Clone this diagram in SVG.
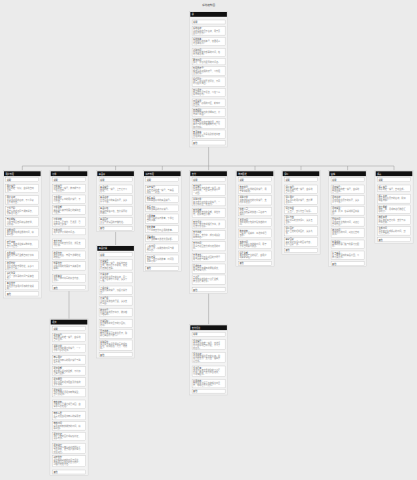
<svg xmlns="http://www.w3.org/2000/svg" width="417" height="480" viewBox="0 0 417 480">
<style>
text{font-family:"Liberation Sans","Noto Sans CJK SC",sans-serif;font-size:2.1px;fill:#444}
.bg{fill:#ebebeb}
.f{fill:#f3f3f3;stroke:#cdcdcd;stroke-width:.4}
.h{fill:#111}
.ht{fill:#fff}
.r{fill:#fff;stroke:#b4b4b4;stroke-width:.3}
.d{fill:#888}
.c{fill:none;stroke:#999;stroke-width:.5}
.ti{font-size:2.6px;fill:#444}
</style>
<rect class="bg" x="0" y="0" width="417" height="480"/>
<text class="ti" x="208.5" y="6.3" text-anchor="middle">系统结构图</text>
<g id="connectors">
<path class="c" d="M208.6 147V166M22.3 166H394M22.3 166V170.5M69 166V170.5M115.6 166V170.5M162.3 166V170.5M208.6 166V170.5M255 166V170.5M301 166V170.5M347.6 166V170.5M394 166V170.5M69 291V318.9M115.6 231.7V245.2M208.6 293.3V324.5"/>
</g>

<g id="root" transform="translate(190.3 0)">
<rect class="f" x="-0.8" y="11.2" width="38.2" height="135.8"/>
<rect class="h" x="0" y="12" width="36.6" height="4.8"/>
<text class="ht" x="1.5" y="15.3">总</text>
<rect class="r" x="1.8" y="20" width="33" height="4"/><text x="2.8" y="22.8">说明：</text>
<rect class="r" x="1.8" y="26.7" width="33" height="8.4"/><text x="2.8" y="29.2">系统名称：<tspan class="d" x="2.8" dy="2.3">当前系统的显示名称，用于页</tspan><tspan class="d" x="2.8" dy="2.3">面标题展示。</tspan></text>
<rect class="r" x="1.8" y="37.3" width="33" height="8.4"/><text x="2.8" y="39.8">系统版本：<tspan class="d" x="2.8" dy="2.3">当前运行的版本号，遵循语义</tspan><tspan class="d" x="2.8" dy="2.3">化版本规范。</tspan></text>
<rect class="r" x="1.8" y="48.3" width="33" height="8.4"/><text x="2.8" y="50.8">创建时间：<tspan class="d" x="2.8" dy="2.3">记录系统首次部署的时间，格</tspan><tspan class="d" x="2.8" dy="2.3">式为年月日。</tspan></text>
<rect class="r" x="1.8" y="58.3" width="33" height="6.6"/><text x="2.8" y="60.8">更新时间：<tspan class="d" x="2.8" dy="2.3">最近一次修改配置的时间点。</tspan></text>
<rect class="r" x="1.8" y="66.7" width="33" height="8.8"/><text x="2.8" y="69.2">管理员账号：<tspan class="d" x="2.8" dy="2.3">拥有最高权限的账号，可管理</tspan><tspan class="d" x="2.8" dy="2.3">全部模块。</tspan></text>
<rect class="r" x="1.8" y="77" width="33" height="9.2"/><text x="2.8" y="79.5">运行环境：<tspan class="d" x="2.8" dy="2.3">生产、测试或开发环境，不同</tspan><tspan class="d" x="2.8" dy="2.3">环境配置独立。</tspan></text>
<rect class="r" x="1.8" y="88.3" width="33" height="8.4"/><text x="2.8" y="90.8">默认语言：<tspan class="d" x="2.8" dy="2.3">界面默认显示语言，可在个人</tspan><tspan class="d" x="2.8" dy="2.3">设置中修改。</tspan></text>
<rect class="r" x="1.8" y="99" width="33" height="7.8"/><text x="2.8" y="101.5">时区设置：<tspan class="d" x="2.8" dy="2.3">系统统一使用的时区，影响时</tspan><tspan class="d" x="2.8" dy="2.3">间显示。</tspan></text>
<rect class="r" x="1.8" y="108.3" width="33" height="8.4"/><text x="2.8" y="110.8">日志级别：<tspan class="d" x="2.8" dy="2.3">控制日志输出的详细程度，分</tspan><tspan class="d" x="2.8" dy="2.3">为四个等级。</tspan></text>
<rect class="r" x="1.8" y="118.3" width="33" height="10.2"/><text x="2.8" y="120.8">存储配置：<tspan class="d" x="2.8" dy="2.3">文件与图片的存储位置，支持</tspan><tspan class="d" x="2.8" dy="2.3">本地与对象存储两种方式，可</tspan><tspan class="d" x="2.8" dy="2.3">随时切换。</tspan></text>
<rect class="r" x="1.8" y="130" width="33" height="8.4"/><text x="2.8" y="132.5">安全策略：<tspan class="d" x="2.8" dy="2.3">密码强度、登录失败锁定等安</tspan><tspan class="d" x="2.8" dy="2.3">全相关设置。</tspan></text>
<rect class="r" x="1.8" y="140.7" width="33" height="4.3"/><text x="2.8" y="143.5">其他</text>
</g>

<g id="n1" transform="translate(4 0)">
<rect class="f" x="-0.8" y="170.5" width="38.2" height="127.5"/>
<rect class="h" x="0" y="171.3" width="36.6" height="4.8"/>
<text class="ht" x="1.5" y="174.6">用户管理</text>
<rect class="r" x="1.8" y="177.7" width="33" height="4"/><text x="2.8" y="180.5">说明：</text>
<rect class="r" x="1.8" y="184.3" width="33" height="8.4"/><text x="2.8" y="186.8">用户编号：<tspan class="d" x="2.8" dy="2.3">用户的唯一标识，由系统自动</tspan><tspan class="d" x="2.8" dy="2.3">生成。</tspan></text>
<rect class="r" x="1.8" y="195.7" width="33" height="8.4"/><text x="2.8" y="198.2">用户名称：<tspan class="d" x="2.8" dy="2.3">登录时使用的名称，不可重复</tspan><tspan class="d" x="2.8" dy="2.3">且不能为空。</tspan></text>
<rect class="r" x="1.8" y="206.7" width="33" height="8.4"/><text x="2.8" y="209.2">手机号码：<tspan class="d" x="2.8" dy="2.3">用于接收验证码与通知消息，</tspan><tspan class="d" x="2.8" dy="2.3">需实名认证。</tspan></text>
<rect class="r" x="1.8" y="217.7" width="33" height="8.4"/><text x="2.8" y="220.2">电子邮箱：<tspan class="d" x="2.8" dy="2.3">可用于找回密码和接收账单，</tspan><tspan class="d" x="2.8" dy="2.3">选填项。</tspan></text>
<rect class="r" x="1.8" y="228.3" width="33" height="8.4"/><text x="2.8" y="230.8">注册时间：<tspan class="d" x="2.8" dy="2.3">用户首次完成注册的时间，精</tspan><tspan class="d" x="2.8" dy="2.3">确到秒。</tspan></text>
<rect class="r" x="1.8" y="240" width="33" height="8.4"/><text x="2.8" y="242.5">账号状态：<tspan class="d" x="2.8" dy="2.3">正常、冻结或注销三种状态，</tspan><tspan class="d" x="2.8" dy="2.3">默认为正常。</tspan></text>
<rect class="r" x="1.8" y="251" width="33" height="8.4"/><text x="2.8" y="253.5">会员等级：<tspan class="d" x="2.8" dy="2.3">根据累计消费金额自动计算等</tspan><tspan class="d" x="2.8" dy="2.3">级。</tspan></text>
<rect class="r" x="1.8" y="261.7" width="33" height="8.2"/><text x="2.8" y="264.2">收货地址：<tspan class="d" x="2.8" dy="2.3">用户保存的常用地址，最多可</tspan><tspan class="d" x="2.8" dy="2.3">保存二十条。</tspan></text>
<rect class="r" x="1.8" y="271.7" width="33" height="8.2"/><text x="2.8" y="274.2">最近登录：<tspan class="d" x="2.8" dy="2.3">最后一次登录的时间与设备信</tspan><tspan class="d" x="2.8" dy="2.3">息。</tspan></text>
<rect class="r" x="1.8" y="281.7" width="33" height="8.2"/><text x="2.8" y="284.2">备注信息：<tspan class="d" x="2.8" dy="2.3">管理员为该用户添加的补充说</tspan><tspan class="d" x="2.8" dy="2.3">明。</tspan></text>
<rect class="r" x="1.8" y="291.7" width="33" height="4.3"/><text x="2.8" y="294.5">其他</text>
</g>

<g id="n2" transform="translate(50.7 0)">
<rect class="f" x="-0.8" y="170.5" width="38.2" height="120.5"/>
<rect class="h" x="0" y="171.3" width="36.6" height="4.8"/>
<text class="ht" x="1.5" y="174.6">订单</text>
<rect class="r" x="1.8" y="177.7" width="33" height="4"/><text x="2.8" y="180.5">说明：</text>
<rect class="r" x="1.8" y="184.3" width="33" height="8.4"/><text x="2.8" y="186.8">订单编号：<tspan class="d" x="2.8" dy="2.3">订单的唯一编号，按日期与序</tspan><tspan class="d" x="2.8" dy="2.3">号组合生成。</tspan></text>
<rect class="r" x="1.8" y="195" width="33" height="8.4"/><text x="2.8" y="197.5">下单用户：<tspan class="d" x="2.8" dy="2.3">关联用户表中的用户编号，不</tspan><tspan class="d" x="2.8" dy="2.3">可为空。</tspan></text>
<rect class="r" x="1.8" y="205.7" width="33" height="8.6"/><text x="2.8" y="208.2">订单金额：<tspan class="d" x="2.8" dy="2.3">商品总价减去优惠后的实际应</tspan><tspan class="d" x="2.8" dy="2.3">付金额。</tspan></text>
<rect class="r" x="1.8" y="217.7" width="33" height="8.4"/><text x="2.8" y="220.2">订单状态：<tspan class="d" x="2.8" dy="2.3">待支付、已支付、已发货、已</tspan><tspan class="d" x="2.8" dy="2.3">完成或已取消。</tspan></text>
<rect class="r" x="1.8" y="228.3" width="33" height="6.6"/><text x="2.8" y="230.8">下单时间：<tspan class="d" x="2.8" dy="2.3">用户提交订单的时间点。</tspan></text>
<rect class="r" x="1.8" y="239" width="33" height="9.2"/><text x="2.8" y="241.5">支付方式：<tspan class="d" x="2.8" dy="2.3">用户选择的支付渠道，详见支</tspan><tspan class="d" x="2.8" dy="2.3">付模块。</tspan></text>
<rect class="r" x="1.8" y="251" width="33" height="8.4"/><text x="2.8" y="253.5">收货信息：<tspan class="d" x="2.8" dy="2.3">收货人姓名、电话与详细地址</tspan><tspan class="d" x="2.8" dy="2.3">的快照。</tspan></text>
<rect class="r" x="1.8" y="261.7" width="33" height="8.4"/><text x="2.8" y="264.2">优惠信息：<tspan class="d" x="2.8" dy="2.3">订单使用的优惠券与满减活动</tspan><tspan class="d" x="2.8" dy="2.3">明细。</tspan></text>
<rect class="r" x="1.8" y="274.3" width="33" height="8.4"/><text x="2.8" y="276.8">订单备注：<tspan class="d" x="2.8" dy="2.3">用户下单时填写的留言内容，</tspan><tspan class="d" x="2.8" dy="2.3">选填。</tspan></text>
<rect class="r" x="1.8" y="285.7" width="33" height="4"/><text x="2.8" y="288.5">其他</text>
</g>

<g id="n2c" transform="translate(50.7 0)">
<rect class="f" x="-0.8" y="318.9" width="38.2" height="156.6"/>
<rect class="h" x="0" y="319.7" width="36.6" height="4.8"/>
<text class="ht" x="1.5" y="323">退款</text>
<rect class="r" x="1.8" y="326.7" width="33" height="4"/><text x="2.8" y="329.5">说明：</text>
<rect class="r" x="1.8" y="333.3" width="33" height="8.4"/><text x="2.8" y="335.8">退款编号：<tspan class="d" x="2.8" dy="2.3">退款申请的唯一编号，由系统</tspan><tspan class="d" x="2.8" dy="2.3">自动生成。</tspan></text>
<rect class="r" x="1.8" y="344.3" width="33" height="8.4"/><text x="2.8" y="346.8">关联订单：<tspan class="d" x="2.8" dy="2.3">发起退款的原订单编号，一个</tspan><tspan class="d" x="2.8" dy="2.3">订单可多次退款。</tspan></text>
<rect class="r" x="1.8" y="355.7" width="33" height="8.4"/><text x="2.8" y="358.2">申请用户：<tspan class="d" x="2.8" dy="2.3">提交退款申请的用户编号与联</tspan><tspan class="d" x="2.8" dy="2.3">系方式。</tspan></text>
<rect class="r" x="1.8" y="366.7" width="33" height="8.4"/><text x="2.8" y="369.2">退款金额：<tspan class="d" x="2.8" dy="2.3">本次申请退还的金额，不得超</tspan><tspan class="d" x="2.8" dy="2.3">过实付金额。</tspan></text>
<rect class="r" x="1.8" y="377.7" width="33" height="8.4"/><text x="2.8" y="380.2">退款原因：<tspan class="d" x="2.8" dy="2.3">用户选择的退款理由及补充的</tspan><tspan class="d" x="2.8" dy="2.3">文字说明。</tspan></text>
<rect class="r" x="1.8" y="388.3" width="33" height="8.6"/><text x="2.8" y="390.8">退款类型：<tspan class="d" x="2.8" dy="2.3">仅退款或退货退款两种类型，</tspan><tspan class="d" x="2.8" dy="2.3">默认仅退款。</tspan></text>
<rect class="r" x="1.8" y="400" width="33" height="8.6"/><text x="2.8" y="402.5">审核状态：<tspan class="d" x="2.8" dy="2.3">待审核、已通过或已驳回，由</tspan><tspan class="d" x="2.8" dy="2.3">客服人员处理。</tspan></text>
<rect class="r" x="1.8" y="411.7" width="33" height="8.2"/><text x="2.8" y="414.2">审核人员：<tspan class="d" x="2.8" dy="2.3">负责处理该退款申请的客服账</tspan><tspan class="d" x="2.8" dy="2.3">号。</tspan></text>
<rect class="r" x="1.8" y="421.7" width="33" height="8.4"/><text x="2.8" y="424.2">审核时间：<tspan class="d" x="2.8" dy="2.3">客服完成审核操作的时间，精</tspan><tspan class="d" x="2.8" dy="2.3">确到秒。</tspan></text>
<rect class="r" x="1.8" y="432.3" width="33" height="8.4"/><text x="2.8" y="434.8">退款凭证：<tspan class="d" x="2.8" dy="2.3">用户上传的图片或视频凭证，</tspan><tspan class="d" x="2.8" dy="2.3">最多九张。</tspan></text>
<rect class="r" x="1.8" y="443.3" width="33" height="10.2"/><text x="2.8" y="445.8">退款进度：<tspan class="d" x="2.8" dy="2.3">记录退款从申请到到账的每个</tspan><tspan class="d" x="2.8" dy="2.3">节点状态，便于用户随时查看</tspan><tspan class="d" x="2.8" dy="2.3">处理进度。</tspan></text>
<rect class="r" x="1.8" y="455.7" width="33" height="11"/><text x="2.8" y="458.2">到账信息：<tspan class="d" x="2.8" dy="2.3">退款实际到账的时间与渠道，</tspan><tspan class="d" x="2.8" dy="2.3">原路返回至用户的支付账户，</tspan><tspan class="d" x="2.8" dy="2.3">以银行处理为准。</tspan></text>
<rect class="r" x="1.8" y="470" width="33" height="4"/><text x="2.8" y="472.8">其他</text>
</g>

<g id="n3" transform="translate(97.3 0)">
<rect class="f" x="-0.8" y="170.5" width="38.2" height="61.2"/>
<rect class="h" x="0" y="171.3" width="36.6" height="4.8"/>
<text class="ht" x="1.5" y="174.6">商品库</text>
<rect class="r" x="1.8" y="177.7" width="33" height="4"/><text x="2.8" y="180.5">说明：</text>
<rect class="r" x="1.8" y="185" width="33" height="8.4"/><text x="2.8" y="187.5">商品编号：<tspan class="d" x="2.8" dy="2.3">商品的唯一编号，上架后不可</tspan><tspan class="d" x="2.8" dy="2.3">修改。</tspan></text>
<rect class="r" x="1.8" y="195.7" width="33" height="8.4"/><text x="2.8" y="198.2">商品名称：<tspan class="d" x="2.8" dy="2.3">展示给用户的商品标题，最多</tspan><tspan class="d" x="2.8" dy="2.3">六十个字。</tspan></text>
<rect class="r" x="1.8" y="206.7" width="33" height="8.4"/><text x="2.8" y="209.2">商品价格：<tspan class="d" x="2.8" dy="2.3">商品的销售价格，支持设置划</tspan><tspan class="d" x="2.8" dy="2.3">线原价。</tspan></text>
<rect class="r" x="1.8" y="217.7" width="33" height="6.6"/><text x="2.8" y="220.2">商品图片：<tspan class="d" x="2.8" dy="2.3">主图与详情图的存储地址。</tspan></text>
<rect class="r" x="1.8" y="226.7" width="33" height="3.6"/><text x="2.8" y="229.3">其他</text>
</g>

<g id="n3c" transform="translate(97.3 0)">
<rect class="f" x="-0.8" y="245.2" width="38.2" height="112.8"/>
<rect class="h" x="0" y="246" width="36.6" height="4.8"/>
<text class="ht" x="1.5" y="249.3">商品分类</text>
<rect class="r" x="1.8" y="252.7" width="33" height="4"/><text x="2.8" y="255.5">说明：</text>
<rect class="r" x="1.8" y="259.3" width="33" height="10.7"/><text x="2.8" y="261.8">分类编号：<tspan class="d" x="2.8" dy="2.3">分类的唯一编号，由系统自动</tspan><tspan class="d" x="2.8" dy="2.3">生成，删除后不会复用，保证</tspan><tspan class="d" x="2.8" dy="2.3">历史数据准确。</tspan></text>
<rect class="r" x="1.8" y="272.7" width="33" height="10.2"/><text x="2.8" y="275.2">分类名称：<tspan class="d" x="2.8" dy="2.3">分类在前台展示的名称，同一</tspan><tspan class="d" x="2.8" dy="2.3">层级下名称不可重复，最多十</tspan><tspan class="d" x="2.8" dy="2.3">个字。</tspan></text>
<rect class="r" x="1.8" y="286" width="33" height="8.2"/><text x="2.8" y="288.5">上级分类：<tspan class="d" x="2.8" dy="2.3">父级分类的编号，顶级分类为</tspan><tspan class="d" x="2.8" dy="2.3">空。</tspan></text>
<rect class="r" x="1.8" y="296.7" width="33" height="8.4"/><text x="2.8" y="299.2">分类层级：<tspan class="d" x="2.8" dy="2.3">当前分类所在的层级，最多支</tspan><tspan class="d" x="2.8" dy="2.3">持三级。</tspan></text>
<rect class="r" x="1.8" y="308.3" width="33" height="8.4"/><text x="2.8" y="310.8">排序序号：<tspan class="d" x="2.8" dy="2.3">同级分类的展示顺序，数值越</tspan><tspan class="d" x="2.8" dy="2.3">小越靠前。</tspan></text>
<rect class="r" x="1.8" y="319.3" width="33" height="8.2"/><text x="2.8" y="321.8">分类图标：<tspan class="d" x="2.8" dy="2.3">在分类导航中显示的小图标，</tspan><tspan class="d" x="2.8" dy="2.3">选填。</tspan></text>
<rect class="r" x="1.8" y="329.3" width="33" height="9"/><text x="2.8" y="331.8">显示状态：<tspan class="d" x="2.8" dy="2.3">控制分类是否在前台展示，隐</tspan><tspan class="d" x="2.8" dy="2.3">藏后商品仍可搜索。</tspan></text>
<rect class="r" x="1.8" y="340" width="33" height="10.2"/><text x="2.8" y="342.5">关联属性：<tspan class="d" x="2.8" dy="2.3">该分类下商品需要填写的规格</tspan><tspan class="d" x="2.8" dy="2.3">属性，例如颜色、尺寸、材质</tspan><tspan class="d" x="2.8" dy="2.3">等。</tspan></text>
<rect class="r" x="1.8" y="352.7" width="33" height="4"/><text x="2.8" y="355.5">其他</text>
</g>

<g id="n4" transform="translate(144 0)">
<rect class="f" x="-0.8" y="170.5" width="38.2" height="101.2"/>
<rect class="h" x="0" y="171.3" width="36.6" height="4.8"/>
<text class="ht" x="1.5" y="174.6">库存管理</text>
<rect class="r" x="1.8" y="177.7" width="33" height="4"/><text x="2.8" y="180.5">说明：</text>
<rect class="r" x="1.8" y="185.7" width="33" height="8"/><text x="2.8" y="188.2">库存编号：<tspan class="d" x="2.8" dy="2.3">库存记录的唯一编号，与商品</tspan><tspan class="d" x="2.8" dy="2.3">规格一一对应。</tspan></text>
<rect class="r" x="1.8" y="196" width="33" height="6.6"/><text x="2.8" y="198.5">所属商品：<tspan class="d" x="2.8" dy="2.3">关联商品库中的商品编号。</tspan></text>
<rect class="r" x="1.8" y="205" width="33" height="6.6"/><text x="2.8" y="207.5">所属仓库：<tspan class="d" x="2.8" dy="2.3">存放该商品的仓库编号。</tspan></text>
<rect class="r" x="1.8" y="214" width="33" height="9.2"/><text x="2.8" y="216.5">可用数量：<tspan class="d" x="2.8" dy="2.3">当前可售的库存数量，下单后</tspan><tspan class="d" x="2.8" dy="2.3">自动扣减。</tspan></text>
<rect class="r" x="1.8" y="225.7" width="33" height="6.6"/><text x="2.8" y="228.2">锁定数量：<tspan class="d" x="2.8" dy="2.3">已下单未支付时占用的数量。</tspan></text>
<rect class="r" x="1.8" y="235" width="33" height="6.6"/><text x="2.8" y="237.5">预警阈值：<tspan class="d" x="2.8" dy="2.3">低于该数量时发送补货提醒。</tspan></text>
<rect class="r" x="1.8" y="244" width="33" height="8.4"/><text x="2.8" y="246.5">入库时间：<tspan class="d" x="2.8" dy="2.3">最近一次入库操作的时间与操</tspan><tspan class="d" x="2.8" dy="2.3">作人员。</tspan></text>
<rect class="r" x="1.8" y="255" width="33" height="8.4"/><text x="2.8" y="257.5">出库记录：<tspan class="d" x="2.8" dy="2.3">最近一次出库的数量、时间及</tspan><tspan class="d" x="2.8" dy="2.3">关联订单。</tspan></text>
<rect class="r" x="1.8" y="266.7" width="33" height="3.6"/><text x="2.8" y="269.3">其他</text>
</g>

<g id="n5" transform="translate(190.3 0)">
<rect class="f" x="-0.8" y="170.5" width="38.2" height="122.8"/>
<rect class="h" x="0" y="171.3" width="36.6" height="4.8"/>
<text class="ht" x="1.5" y="174.6">支付</text>
<rect class="r" x="1.8" y="177.7" width="33" height="4"/><text x="2.8" y="180.5">说明：</text>
<rect class="r" x="1.8" y="184.3" width="33" height="11.2"/><text x="2.8" y="186.8">支付编号：<tspan class="d" x="2.8" dy="2.3">每笔支付流水的唯一编号，由</tspan><tspan class="d" x="2.8" dy="2.3">系统生成，与第三方交易号一</tspan><tspan class="d" x="2.8" dy="2.3">一对应。</tspan></text>
<rect class="r" x="1.8" y="197.7" width="33" height="8.2"/><text x="2.8" y="200.2">关联订单：<tspan class="d" x="2.8" dy="2.3">本次支付对应的订单编号，一</tspan><tspan class="d" x="2.8" dy="2.3">笔订单对应一笔支付。</tspan></text>
<rect class="r" x="1.8" y="208.3" width="33" height="9.2"/><text x="2.8" y="210.8">支付金额：<tspan class="d" x="2.8" dy="2.3">用户实际支付的金额，单位为</tspan><tspan class="d" x="2.8" dy="2.3">元，保留两位小数。</tspan></text>
<rect class="r" x="1.8" y="220" width="33" height="8.4"/><text x="2.8" y="222.5">支付渠道：<tspan class="d" x="2.8" dy="2.3">微信、支付宝或银行卡等，详</tspan><tspan class="d" x="2.8" dy="2.3">见支付渠道表。</tspan></text>
<rect class="r" x="1.8" y="230.7" width="33" height="8.6"/><text x="2.8" y="233.2">支付状态：<tspan class="d" x="2.8" dy="2.3">待支付、支付中、成功或失败</tspan><tspan class="d" x="2.8" dy="2.3">四种状态。</tspan></text>
<rect class="r" x="1.8" y="241.7" width="33" height="9.2"/><text x="2.8" y="244.2">支付时间：<tspan class="d" x="2.8" dy="2.3">第三方返回支付成功结果的时</tspan><tspan class="d" x="2.8" dy="2.3">间。</tspan></text>
<rect class="r" x="1.8" y="253.3" width="33" height="8.4"/><text x="2.8" y="255.8">交易流水：<tspan class="d" x="2.8" dy="2.3">第三方支付平台返回的交易号</tspan><tspan class="d" x="2.8" dy="2.3">用于对账与查询。</tspan></text>
<rect class="r" x="1.8" y="264" width="33" height="9.2"/><text x="2.8" y="266.5">回调信息：<tspan class="d" x="2.8" dy="2.3">第三方异步通知的原始报文，</tspan><tspan class="d" x="2.8" dy="2.3">用于排查问题。</tspan></text>
<rect class="r" x="1.8" y="275" width="33" height="9.2"/><text x="2.8" y="277.5">手续费：<tspan class="d" x="2.8" dy="2.3">支付平台收取的手续费金额，</tspan><tspan class="d" x="2.8" dy="2.3">按渠道费率计算。</tspan></text>
<rect class="r" x="1.8" y="287.7" width="33" height="4"/><text x="2.8" y="290.5">其他</text>
</g>

<g id="n5c" transform="translate(190.3 0)">
<rect class="f" x="-0.8" y="324.5" width="38.2" height="70.5"/>
<rect class="h" x="0" y="325.3" width="36.6" height="4.8"/>
<text class="ht" x="1.5" y="328.6">支付渠道</text>
<rect class="r" x="1.8" y="332.3" width="33" height="4"/><text x="2.8" y="335.1">说明：</text>
<rect class="r" x="1.8" y="339.3" width="33" height="10.2"/><text x="2.8" y="341.8">渠道编号：<tspan class="d" x="2.8" dy="2.3">支付渠道的唯一编号，新增渠</tspan><tspan class="d" x="2.8" dy="2.3">道时由系统自动分配，不可手</tspan><tspan class="d" x="2.8" dy="2.3">动修改。</tspan></text>
<rect class="r" x="1.8" y="352.3" width="33" height="10.4"/><text x="2.8" y="354.8">渠道名称：<tspan class="d" x="2.8" dy="2.3">渠道在收银台展示的名称，例</tspan><tspan class="d" x="2.8" dy="2.3">如微信支付、支付宝、银联云</tspan><tspan class="d" x="2.8" dy="2.3">闪付等。</tspan></text>
<rect class="r" x="1.8" y="366" width="33" height="10.6"/><text x="2.8" y="368.5">渠道费率：<tspan class="d" x="2.8" dy="2.3">该渠道每笔交易收取的手续费</tspan><tspan class="d" x="2.8" dy="2.3">比例，按月与支付平台结算，</tspan><tspan class="d" x="2.8" dy="2.3">可单独配置。</tspan></text>
<rect class="r" x="1.8" y="379.3" width="33" height="8.6"/><text x="2.8" y="381.8">启用状态：<tspan class="d" x="2.8" dy="2.3">控制该渠道是否在收银台中显</tspan><tspan class="d" x="2.8" dy="2.3">示，停用后不可选择。</tspan></text>
<rect class="r" x="1.8" y="389.3" width="33" height="3.8"/><text x="2.8" y="392">其他</text>
</g>

<g id="n6" transform="translate(236.7 0)">
<rect class="f" x="-0.8" y="170.5" width="38.2" height="96.2"/>
<rect class="h" x="0" y="171.3" width="36.6" height="4.8"/>
<text class="ht" x="1.5" y="174.6">物流配送</text>
<rect class="r" x="1.8" y="177.7" width="33" height="4"/><text x="2.8" y="180.5">说明：</text>
<rect class="r" x="1.8" y="185" width="33" height="8.4"/><text x="2.8" y="187.5">物流单号：<tspan class="d" x="2.8" dy="2.3">快递公司提供的运单编号，用</tspan><tspan class="d" x="2.8" dy="2.3">于查询轨迹。</tspan></text>
<rect class="r" x="1.8" y="195.7" width="33" height="9.3"/><text x="2.8" y="198.2">关联订单：<tspan class="d" x="2.8" dy="2.3">该物流单对应的订单编号，支</tspan><tspan class="d" x="2.8" dy="2.3">持拆单发货。</tspan></text>
<rect class="r" x="1.8" y="207.7" width="33" height="8.2"/><text x="2.8" y="210.2">快递公司：<tspan class="d" x="2.8" dy="2.3">承运该包裹的快递公司名称与</tspan><tspan class="d" x="2.8" dy="2.3">编码。</tspan></text>
<rect class="r" x="1.8" y="218.3" width="33" height="8.2"/><text x="2.8" y="220.8">发货时间：<tspan class="d" x="2.8" dy="2.3">仓库完成打包并交给快递的时</tspan><tspan class="d" x="2.8" dy="2.3">间。</tspan></text>
<rect class="r" x="1.8" y="229" width="33" height="8.7"/><text x="2.8" y="231.5">物流状态：<tspan class="d" x="2.8" dy="2.3">已揽收、运输中、派送中或已</tspan><tspan class="d" x="2.8" dy="2.3">签收。</tspan></text>
<rect class="r" x="1.8" y="240" width="33" height="8.4"/><text x="2.8" y="242.5">签收时间：<tspan class="d" x="2.8" dy="2.3">收件人确认签收的时间，用于</tspan><tspan class="d" x="2.8" dy="2.3">计算自动确认收货。</tspan></text>
<rect class="r" x="1.8" y="251" width="33" height="8.2"/><text x="2.8" y="253.5">运费金额：<tspan class="d" x="2.8" dy="2.3">本次配送产生的运费，由用户</tspan><tspan class="d" x="2.8" dy="2.3">或商家承担。</tspan></text>
<rect class="r" x="1.8" y="261.7" width="33" height="3.6"/><text x="2.8" y="264.3">其他</text>
</g>

<g id="n7" transform="translate(282.7 0)">
<rect class="f" x="-0.8" y="170.5" width="38.2" height="83.8"/>
<rect class="h" x="0" y="171.3" width="36.6" height="4.8"/>
<text class="ht" x="1.5" y="174.6">评价</text>
<rect class="r" x="1.8" y="177.7" width="33" height="4"/><text x="2.8" y="180.5">说明：</text>
<rect class="r" x="1.8" y="185" width="33" height="8.4"/><text x="2.8" y="187.5">评价编号：<tspan class="d" x="2.8" dy="2.3">评价记录的唯一编号，由系统</tspan><tspan class="d" x="2.8" dy="2.3">自动生成。</tspan></text>
<rect class="r" x="1.8" y="195.7" width="33" height="8.6"/><text x="2.8" y="198.2">评价用户：<tspan class="d" x="2.8" dy="2.3">发表评价的用户编号，支持匿</tspan><tspan class="d" x="2.8" dy="2.3">名评价。</tspan></text>
<rect class="r" x="1.8" y="206.7" width="33" height="6.6"/><text x="2.8" y="209.2">评分等级：<tspan class="d" x="2.8" dy="2.3">一至五星，默认为五星好评。</tspan></text>
<rect class="r" x="1.8" y="215.7" width="33" height="9.2"/><text x="2.8" y="218.2">评价内容：<tspan class="d" x="2.8" dy="2.3">用户填写的文字评价，最多五</tspan><tspan class="d" x="2.8" dy="2.3">百字。</tspan></text>
<rect class="r" x="1.8" y="226.7" width="33" height="9.2"/><text x="2.8" y="229.2">评价图片：<tspan class="d" x="2.8" dy="2.3">用户上传的晒单图片，最多九</tspan><tspan class="d" x="2.8" dy="2.3">张。</tspan></text>
<rect class="r" x="1.8" y="237.7" width="33" height="8.8"/><text x="2.8" y="240.2">商家回复：<tspan class="d" x="2.8" dy="2.3">商家针对该评价的回复内容，</tspan><tspan class="d" x="2.8" dy="2.3">仅可回复一次。</tspan></text>
<rect class="r" x="1.8" y="248.3" width="33" height="4"/><text x="2.8" y="251.1">其他</text>
</g>

<g id="n8" transform="translate(329.3 0)">
<rect class="f" x="-0.8" y="170.5" width="38.2" height="96.2"/>
<rect class="h" x="0" y="171.3" width="36.6" height="4.8"/>
<text class="ht" x="1.5" y="174.6">营销</text>
<rect class="r" x="1.8" y="177.7" width="33" height="4"/><text x="2.8" y="180.5">说明：</text>
<rect class="r" x="1.8" y="185" width="33" height="8.4"/><text x="2.8" y="187.5">活动编号：<tspan class="d" x="2.8" dy="2.3">营销活动的唯一编号，由系统</tspan><tspan class="d" x="2.8" dy="2.3">自动生成。</tspan></text>
<rect class="r" x="1.8" y="195.7" width="33" height="9.2"/><text x="2.8" y="198.2">活动名称：<tspan class="d" x="2.8" dy="2.3">活动在前台展示的标题，最多</tspan><tspan class="d" x="2.8" dy="2.3">二十个字。</tspan></text>
<rect class="r" x="1.8" y="206.7" width="33" height="8.4"/><text x="2.8" y="209.2">活动类型：<tspan class="d" x="2.8" dy="2.3">满减、折扣、秒杀或拼团等类</tspan><tspan class="d" x="2.8" dy="2.3">型。</tspan></text>
<rect class="r" x="1.8" y="217.7" width="33" height="8.4"/><text x="2.8" y="220.2">开始时间：<tspan class="d" x="2.8" dy="2.3">活动正式生效的时间，到点后</tspan><tspan class="d" x="2.8" dy="2.3">自动开启。</tspan></text>
<rect class="r" x="1.8" y="228.3" width="33" height="9.2"/><text x="2.8" y="230.8">结束时间：<tspan class="d" x="2.8" dy="2.3">活动结束的时间，到点后自动</tspan><tspan class="d" x="2.8" dy="2.3">关闭。</tspan></text>
<rect class="r" x="1.8" y="240" width="33" height="8.4"/><text x="2.8" y="242.5">优惠规则：<tspan class="d" x="2.8" dy="2.3">具体的优惠门槛与优惠力度配</tspan><tspan class="d" x="2.8" dy="2.3">置。</tspan></text>
<rect class="r" x="1.8" y="251" width="33" height="8.2"/><text x="2.8" y="253.5">参与商品：<tspan class="d" x="2.8" dy="2.3">参与本次活动的商品范围，可</tspan><tspan class="d" x="2.8" dy="2.3">按分类选择。</tspan></text>
<rect class="r" x="1.8" y="261.7" width="33" height="4"/><text x="2.8" y="264.5">其他</text>
</g>

<g id="n9" transform="translate(375.7 0)">
<rect class="f" x="-0.8" y="170.5" width="38.2" height="72.8"/>
<rect class="h" x="0" y="171.3" width="36.6" height="4.8"/>
<text class="ht" x="1.5" y="174.6">报表</text>
<rect class="r" x="1.8" y="177.7" width="33" height="4"/><text x="2.8" y="180.5">说明：</text>
<rect class="r" x="1.8" y="185" width="33" height="6.6"/><text x="2.8" y="187.5">报表编号：<tspan class="d" x="2.8" dy="2.3">报表的唯一编号，自动生成。</tspan></text>
<rect class="r" x="1.8" y="194.3" width="33" height="8.8"/><text x="2.8" y="196.8">报表名称：<tspan class="d" x="2.8" dy="2.3">报表在后台展示的名称，例如</tspan><tspan class="d" x="2.8" dy="2.3">销售日报。</tspan></text>
<rect class="r" x="1.8" y="205" width="33" height="8.4"/><text x="2.8" y="207.5">统计周期：<tspan class="d" x="2.8" dy="2.3">按日、周、月或年进行数据汇</tspan><tspan class="d" x="2.8" dy="2.3">总统计。</tspan></text>
<rect class="r" x="1.8" y="215.7" width="33" height="8.6"/><text x="2.8" y="218.2">数据来源：<tspan class="d" x="2.8" dy="2.3">报表数据来自订单、支付与库</tspan><tspan class="d" x="2.8" dy="2.3">存等模块。</tspan></text>
<rect class="r" x="1.8" y="226.7" width="33" height="8.4"/><text x="2.8" y="229.2">生成时间：<tspan class="d" x="2.8" dy="2.3">系统定时生成报表的时间，默</tspan><tspan class="d" x="2.8" dy="2.3">认凌晨执行。</tspan></text>
<rect class="r" x="1.8" y="237.7" width="33" height="4"/><text x="2.8" y="240.5">其他</text>
</g>
</svg>
